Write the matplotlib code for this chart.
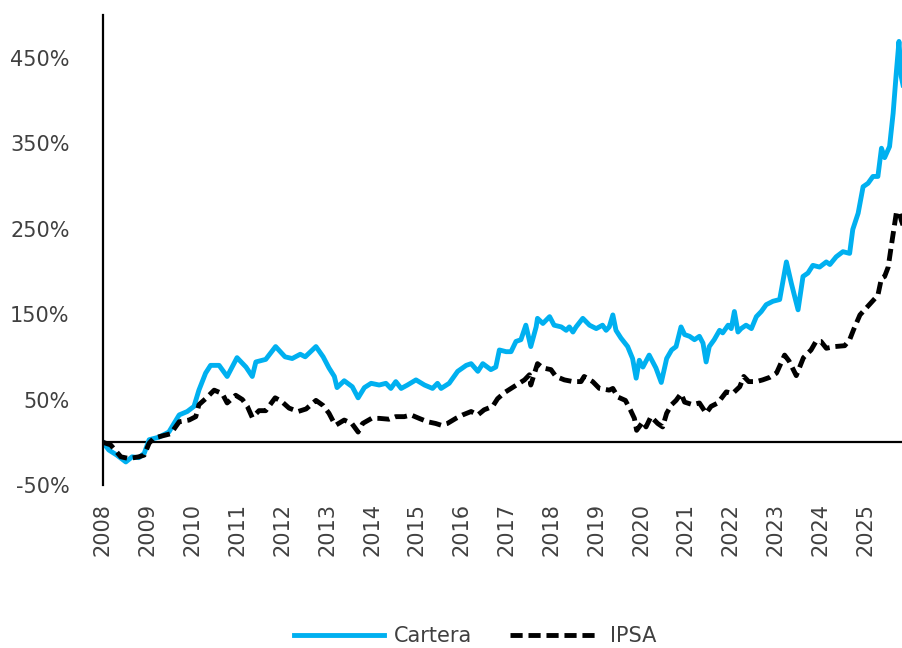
import matplotlib
matplotlib.use("Agg")
import matplotlib.pyplot as plt
from matplotlib.ticker import FuncFormatter

# Cartera (decimal year, cumulative return %)
cartera_t = [2008.00, 2008.13, 2008.31, 2008.51, 2008.65, 2008.80, 2008.92, 2009.03, 2009.25, 2009.47,
             2009.70, 2009.88, 2010.03, 2010.14, 2010.29, 2010.40, 2010.59, 2010.77, 2010.99, 2011.19,
             2011.33, 2011.41, 2011.63, 2011.85, 2012.06, 2012.22, 2012.40, 2012.51, 2012.75, 2012.91,
             2013.04, 2013.16, 2013.22, 2013.38, 2013.56, 2013.69, 2013.83, 2013.98, 2014.16, 2014.31,
             2014.42, 2014.53, 2014.65, 2014.79, 2014.98, 2015.17, 2015.35, 2015.46, 2015.54, 2015.72,
             2015.91, 2016.10, 2016.21, 2016.36, 2016.47, 2016.65, 2016.76, 2016.84, 2016.99, 2017.10,
             2017.21, 2017.32, 2017.43, 2017.54, 2017.66, 2017.69, 2017.81, 2017.96, 2018.06, 2018.22,
             2018.33, 2018.40, 2018.48, 2018.55, 2018.70, 2018.85, 2019.00, 2019.14, 2019.22, 2019.29,
             2019.37, 2019.44, 2019.55, 2019.70, 2019.81, 2019.89, 2019.96, 2020.04, 2020.18, 2020.33,
             2020.45, 2020.57, 2020.68, 2020.78, 2020.89, 2020.97, 2021.08, 2021.19, 2021.30, 2021.38,
             2021.45, 2021.52, 2021.63, 2021.75, 2021.82, 2021.94, 2022.01, 2022.08, 2022.16, 2022.23,
             2022.34, 2022.46, 2022.57, 2022.68, 2022.79, 2022.94, 2023.09, 2023.24, 2023.35, 2023.50,
             2023.61, 2023.72, 2023.83, 2023.98, 2024.13, 2024.21, 2024.35, 2024.50, 2024.65, 2024.72,
             2024.84, 2024.95, 2025.06, 2025.17, 2025.28, 2025.36, 2025.43, 2025.54, 2025.62, 2025.69,
             2025.75, 2025.80, 2025.84]
cartera = [0, -9, -15, -23, -17, -18, -13, 3, 6, 12,
           32, 36, 42, 61, 81, 90, 90, 77, 99, 88,
           77, 94, 97, 112, 100, 98, 103, 100, 112, 100,
           87, 77, 64, 72, 65, 52, 64, 69, 67, 69,
           63, 71, 63, 67, 73, 67, 63, 69, 63, 69,
           83, 90, 92, 83, 92, 85, 88, 108, 106, 106,
           118, 120, 137, 112, 135, 145, 139, 147, 137, 135,
           131, 135, 129, 135, 145, 137, 133, 137, 131, 135,
           149, 131, 122, 112, 98, 75, 96, 88, 102, 87,
           70, 98, 108, 112, 135, 126, 124, 120, 124, 116,
           94, 112, 120, 131, 128, 137, 133, 153, 129, 133,
           137, 133, 147, 153, 161, 165, 167, 211, 186, 155,
           194, 198, 207, 205, 211, 208, 217, 223, 221, 249,
           268, 299, 303, 311, 311, 344, 333, 346, 385, 432,
           469, 428, 418]

# IPSA (decimal year, cumulative return %)
ipsa_t = [2008.00, 2008.17, 2008.40, 2008.58, 2008.80, 2008.92, 2009.03, 2009.14, 2009.36, 2009.51,
          2009.70, 2009.92, 2010.07, 2010.14, 2010.29, 2010.48, 2010.66, 2010.77, 2010.96, 2011.11,
          2011.22, 2011.33, 2011.48, 2011.63, 2011.84, 2011.98, 2012.15, 2012.35, 2012.53, 2012.75,
          2012.91, 2013.04, 2013.13, 2013.19, 2013.38, 2013.55, 2013.69, 2013.79, 2013.99, 2014.16,
          2014.38, 2014.53, 2014.72, 2014.87, 2015.05, 2015.24, 2015.42, 2015.54, 2015.68, 2015.87,
          2016.02, 2016.21, 2016.36, 2016.50, 2016.69, 2016.80, 2016.95, 2017.10, 2017.28, 2017.40,
          2017.51, 2017.54, 2017.69, 2017.81, 2017.99, 2018.10, 2018.29, 2018.48, 2018.66, 2018.73,
          2018.92, 2019.07, 2019.29, 2019.37, 2019.48, 2019.65, 2019.76, 2019.85, 2019.90, 2020.04,
          2020.11, 2020.22, 2020.37, 2020.48, 2020.57, 2020.68, 2020.78, 2020.89, 2020.97, 2021.15,
          2021.30, 2021.45, 2021.56, 2021.71, 2021.90, 2022.04, 2022.20, 2022.29, 2022.40, 2022.57,
          2022.71, 2022.87, 2023.02, 2023.20, 2023.30, 2023.46, 2023.62, 2023.79, 2023.90, 2024.01,
          2024.13, 2024.32, 2024.54, 2024.65, 2024.74, 2024.88, 2025.02, 2025.16, 2025.28, 2025.32,
          2025.36, 2025.43, 2025.51, 2025.58, 2025.69, 2025.75, 2025.80, 2025.84]
ipsa = [0, -3, -17, -19, -17, -15, -1, 5, 8, 10,
        24, 26, 30, 44, 51, 61, 57, 46, 55, 50,
        42, 29, 37, 37, 52, 48, 40, 36, 39, 49,
        43, 34, 25, 20, 26, 22, 12, 22, 28, 28,
        27, 30, 30, 32, 28, 24, 22, 20, 22, 28,
        32, 36, 32, 38, 42, 51, 58, 63, 69, 73,
        79, 67, 92, 87, 85, 77, 73, 71, 71, 77,
        71, 63, 61, 63, 53, 49, 38, 28, 14, 24,
        18, 30, 22, 18, 34, 44, 49, 57, 47, 44,
        46, 34, 42, 46, 59, 57, 65, 77, 71, 71,
        73, 76, 81, 102, 95, 78, 99, 108, 118, 118,
        110, 112, 113, 120, 132, 149, 157, 165, 172, 182,
        192, 194, 205, 230, 268, 270, 260, 254]

years = list(range(2008, 2026))
y_ticks = [-50, 50, 150, 250, 350, 450]

blue = "#00B0F0"
text_col = "#404040"
plt.rcParams["font.family"] = ["DejaVu Sans"]

fig = plt.figure(figsize=(9.03, 6.48), dpi=100)
ax = fig.add_axes([0.114, 0.2515, 0.886, 0.7255])

ax.plot(cartera_t, cartera, color=blue, lw=3.5, label="Cartera", solid_joinstyle="round")
ax.plot(ipsa_t, ipsa, color="black", lw=3.5, dashes=(2.5, 1.2), label="IPSA")
ax.axhline(0, color="black", lw=1.6, zorder=1)

ax.set_xlim(2008, 2025.84)
ax.set_ylim(-50, 500)
ax.set_yticks(y_ticks)
ax.yaxis.set_major_formatter(FuncFormatter(lambda v, p: f"{v:.0f}%"))
ax.set_xticks(years)
ax.set_xticklabels([str(y) for y in years], rotation=90)
ax.tick_params(axis="y", length=0, pad=24, labelsize=15, labelcolor=text_col)
ax.tick_params(axis="x", length=0, pad=13, labelsize=15, labelcolor=text_col)

for s in ["top", "right", "bottom"]:
    ax.spines[s].set_visible(False)
ax.spines["left"].set_linewidth(1.6)

fig.legend(loc="center", bbox_to_anchor=(475 / 903, 1 - 636 / 648), ncol=2, frameon=False,
           fontsize=15, handlelength=4.3, columnspacing=1.8, handletextpad=0.5,
           labelcolor=text_col)

fig.savefig("out.png", dpi=100)
